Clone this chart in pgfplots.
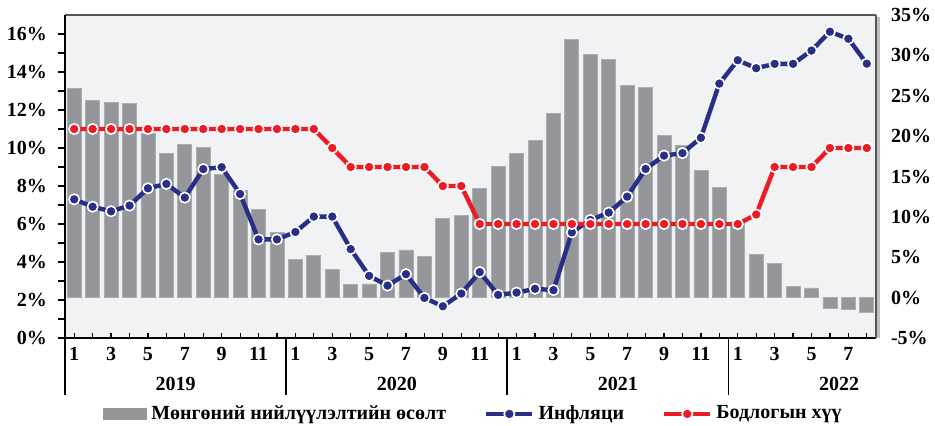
\documentclass[border=0pt]{standalone}
\usepackage{fontspec}
\setmainfont{Liberation Serif}
\usepackage{pgfplots}
\pgfplotsset{compat=1.18}
\definecolor{barcol}{RGB}{148,150,153}
\definecolor{baredge}{RGB}{170,172,175}
\definecolor{bgcol}{RGB}{241,242,244}
\definecolor{infl}{RGB}{41,47,134}
\definecolor{pol}{RGB}{237,28,36}
\definecolor{framegray}{RGB}{85,85,85}

\begin{document}
\begin{tikzpicture}[font=\bfseries\fontsize{10}{12}\selectfont]
\pgfplotsset{
  chartbase/.style={width=405.5pt,height=161.5pt,scale only axis,
    xmin=0.5,xmax=44.5,clip=false},
}
% bars: money supply growth, right axis
\begin{axis}[chartbase, ymin=-5, ymax=35,
  axis x line*=bottom, axis y line*=right,
  x axis line style={-,black,line width=0.9pt},
  y axis line style={-,framegray,line width=0.8pt},
  axis background/.style={fill=bgcol},
  xtick={1,3,...,43}, minor xtick={2,4,...,44},
  xticklabels={1,3,5,7,9,11,1,3,5,7,9,11,1,3,5,7,9,11,1,3,5,7},
  tick align=inside, major tick length=2.5pt, minor tick length=2.5pt,
  xtick style={black,line width=0.6pt},
  xticklabel style={yshift=-1pt},
  ytick={-5,0,...,35},
  yticklabels={-5\%,0\%,5\%,10\%,15\%,20\%,25\%,30\%,35\%},
  ytick style={draw=none},
  yticklabel style={xshift=4pt},
]
\coordinate (sw) at (rel axis cs:0,0);
\coordinate (ne) at (rel axis cs:1,1);
\addplot[ybar, bar width=0.76, fill=barcol, draw=baredge, line width=0.4pt] coordinates {
(1,25.9)(2,24.4)(3,24.2)(4,24.0)(5,20.3)(6,17.9)(7,19.0)(8,18.6)(9,15.2)(10,13.3)(11,10.9)(12,8.1)
(13,4.7)(14,5.2)(15,3.5)(16,1.6)(17,1.7)(18,5.6)(19,5.9)(20,5.1)(21,9.8)(22,10.2)(23,13.5)(24,16.2)
(25,17.8)(26,19.5)(27,22.8)(28,32.0)(29,30.1)(30,29.5)(31,26.3)(32,26.0)(33,20.1)(34,18.8)(35,15.8)(36,13.7)
(37,9.3)(38,5.4)(39,4.2)(40,1.4)(41,1.2)(42,-1.3)(43,-1.4)(44,-1.8)
};
% frame top and soft shadow on the right
\draw[framegray,line width=0.8pt] (rel axis cs:0,1) -- (rel axis cs:1,1);
\draw[black!25,line width=1.2pt] ([xshift=1.2pt,yshift=-1pt]rel axis cs:1,1) -- ([xshift=1.2pt]rel axis cs:1,0);
% year separators
\draw[black,line width=0.9pt] (axis cs:0.5,-5) -- ++(0pt,-28.5pt);
\draw[black,line width=0.9pt] (axis cs:12.5,-5) -- ++(0pt,-28.5pt);
\draw[black,line width=0.9pt] (axis cs:24.5,-5) -- ++(0pt,-28.5pt);
\draw[black,line width=0.9pt] (axis cs:36.5,-5) -- ++(0pt,-28.5pt);
\node at (axis cs:6.5,-5) [yshift=-23pt] {2019};
\node at (axis cs:18.5,-5) [yshift=-23pt] {2020};
\node at (axis cs:30.5,-5) [yshift=-23pt] {2021};
\node at (axis cs:42.5,-5) [yshift=-23pt] {2022};
\end{axis}
% lines: inflation and policy rate, left axis
\begin{axis}[chartbase, ymin=0, ymax=17,
  axis x line=none, axis y line*=left,
  y axis line style={-,black,line width=0.9pt},
  ytick={0,2,...,16}, minor ytick={1,3,...,15},
  yticklabels={0\%,2\%,4\%,6\%,8\%,10\%,12\%,14\%,16\%},
  tick align=outside, major tick length=3.5pt, minor tick length=3.5pt,
  ytick style={black,line width=0.6pt},
  yticklabel style={xshift=-2pt},
  legend style={at={(0.505,-0.235)}, anchor=center, draw=none, fill=none,
    legend columns=3, /tikz/every even column/.append style={column sep=17pt}},
  legend cell align=left,
  legend image code/.code={\draw[mark repeat=2,mark phase=2,#1] plot coordinates {(0pt,0pt)(11.5pt,0pt)(23pt,0pt)};},
]
\addlegendimage{legend image code/.code={\fill[barcol] (0pt,-2.8pt) rectangle (21.5pt,2.8pt);}}
\addlegendentry{Мөнгөний нийлүүлэлтийн өсөлт}
\addplot[infl, line width=2.2pt, mark=*, mark size=2.6pt,
  mark options={fill=infl, draw=white, line width=0.8pt}] coordinates {
(1,7.30)(2,6.91)(3,6.67)(4,6.97)(5,7.88)(6,8.11)(7,7.39)(8,8.89)(9,8.99)(10,7.58)(11,5.19)(12,5.19)
(13,5.58)(14,6.39)(15,6.39)(16,4.68)(17,3.27)(18,2.76)(19,3.36)(20,2.11)(21,1.67)(22,2.34)(23,3.47)(24,2.27)
(25,2.39)(26,2.59)(27,2.52)(28,5.56)(29,6.21)(30,6.60)(31,7.44)(32,8.90)(33,9.60)(34,9.73)(35,10.54)(36,13.39)
(37,14.62)(38,14.20)(39,14.43)(40,14.43)(41,15.13)(42,16.12)(43,15.75)(44,14.44)
};
\addlegendentry{Инфляци}
\addplot[pol, line width=2.2pt, mark=*, mark size=2.6pt,
  mark options={fill=pol, draw=white, line width=0.8pt}] coordinates {
(1,11)(2,11)(3,11)(4,11)(5,11)(6,11)(7,11)(8,11)(9,11)(10,11)(11,11)(12,11)
(13,11)(14,11)(15,10)(16,9)(17,9)(18,9)(19,9)(20,9)(21,8)(22,8)(23,6)(24,6)
(25,6)(26,6)(27,6)(28,6)(29,6)(30,6)(31,6)(32,6)(33,6)(34,6)(35,6)(36,6)
(37,6)(38,6.5)(39,9)(40,9)(41,9)(42,10)(43,10)(44,10)
};
\addlegendentry{Бодлогын хүү}
\end{axis}
\pgfresetboundingbox
\path[use as bounding box] ([xshift=-32.5pt,yshift=-43.5pt]sw) rectangle ([xshift=29.5pt,yshift=7.5pt]ne);
\end{tikzpicture}
\end{document}
